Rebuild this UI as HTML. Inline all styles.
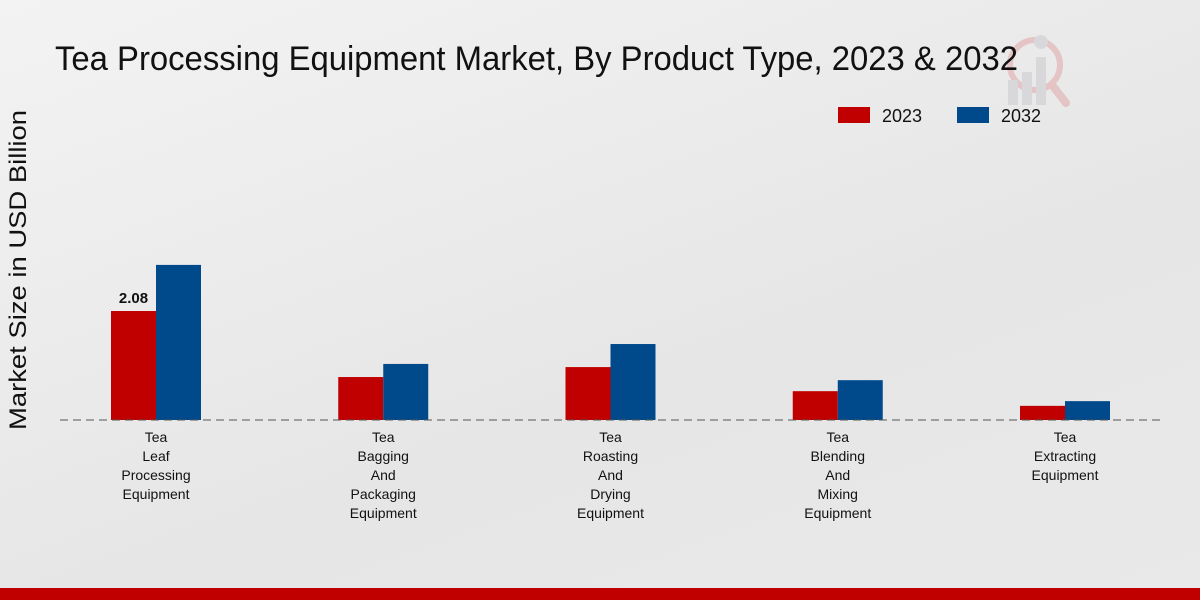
<!DOCTYPE html>
<html><head><meta charset="utf-8"><style>
html,body{margin:0;padding:0;width:1200px;height:600px;overflow:hidden}
body{background:linear-gradient(160deg,#f3f3f3 0%,#e6e6e6 60%,#e9e9e9 100%);font-family:"Liberation Sans",sans-serif}
</style></head><body>
<svg id="chart" width="1200" height="600" xmlns="http://www.w3.org/2000/svg">
<g opacity="0.5">
<circle cx="1035" cy="65" r="25" fill="none" stroke="#e0a0a0" stroke-width="6"/>
<line x1="1052" y1="85" x2="1066" y2="103" stroke="#e0a0a0" stroke-width="8" stroke-linecap="round"/>
<rect x="1008" y="80" width="10" height="25" fill="#c8c8cc"/>
<rect x="1022" y="72" width="10" height="33" fill="#c8c8cc"/>
<rect x="1036" y="57" width="10" height="48" fill="#c8c8cc"/>
<circle cx="1041" cy="42" r="7" fill="#c8c8cc"/>
</g>
<text x="55" y="70" font-size="34" textLength="963" lengthAdjust="spacingAndGlyphs" fill="#111">Tea Processing Equipment Market, By Product Type, 2023 &amp; 2032</text>
<text transform="translate(26,270) rotate(-90)" text-anchor="middle" font-size="24" textLength="320" lengthAdjust="spacingAndGlyphs" fill="#111">Market Size in USD Billion</text>
<g>
<rect x="838" y="107" width="32" height="16" fill="#c00000"/>
<text x="882" y="122" font-size="18" fill="#111">2023</text>
<rect x="957" y="107" width="32" height="16" fill="#004a8c"/>
<text x="1001" y="122" font-size="18" fill="#111">2032</text>
</g>
<g id="bars"></g>
<line x1="60" y1="420" x2="1160" y2="420" stroke="#555" stroke-width="1" stroke-dasharray="8,5"/>
<g id="labels"></g>
<rect x="0" y="588" width="1200" height="12" fill="#c00000"/>
</svg>
<script>
const categories=[["Tea","Leaf","Processing","Equipment"],["Tea","Bagging","And","Packaging","Equipment"],["Tea","Roasting","And","Drying","Equipment"],["Tea","Blending","And","Mixing","Equipment"],["Tea","Extracting","Equipment"]];
const values2023=[2.08,0.82,1.01,0.55,0.27];
const values2032=[2.96,1.07,1.45,0.76,0.36];
const shownLabels=["2.08",null,null,null,null];
const NS="http://www.w3.org/2000/svg";
const baseY=420, pxPerUnit=52.4, x0=156, step=227.25, bw=45;
const yS=v=>v*pxPerUnit;
const xC=i=>x0+i*step;
const bars=document.getElementById('bars'), labels=document.getElementById('labels');
function mk(t,a){const e=document.createElementNS(NS,t);for(const k in a)e.setAttribute(k,a[k]);return e;}
categories.forEach((c,i)=>{
  const h1=yS(values2023[i]), h2=yS(values2032[i]);
  const r1=mk('rect',{x:xC(i)-bw,y:baseY-h1,width:bw,height:h1,fill:'#c00000'});
  
  
  bars.appendChild(r1);
  const r2=mk('rect',{x:xC(i),y:baseY-h2,width:bw,height:h2,fill:'#004a8c'});
  
  
  bars.appendChild(r2);
  if(shownLabels[i]){
    const t=mk('text',{x:xC(i)-bw/2,y:baseY-h1-8,'text-anchor':'middle','font-size':'15','font-weight':'bold',fill:'#111'});
    t.textContent=shownLabels[i];
    
    
    labels.appendChild(t);
  }
  const t=mk('text',{'text-anchor':'middle','font-size':'14',fill:'#111'});
  
  
  c.forEach((w,j)=>{const s=mk('tspan',{x:xC(i),y:442+j*19});s.textContent=w;t.appendChild(s);});
  labels.appendChild(t);
});
</script>
</body></html>
